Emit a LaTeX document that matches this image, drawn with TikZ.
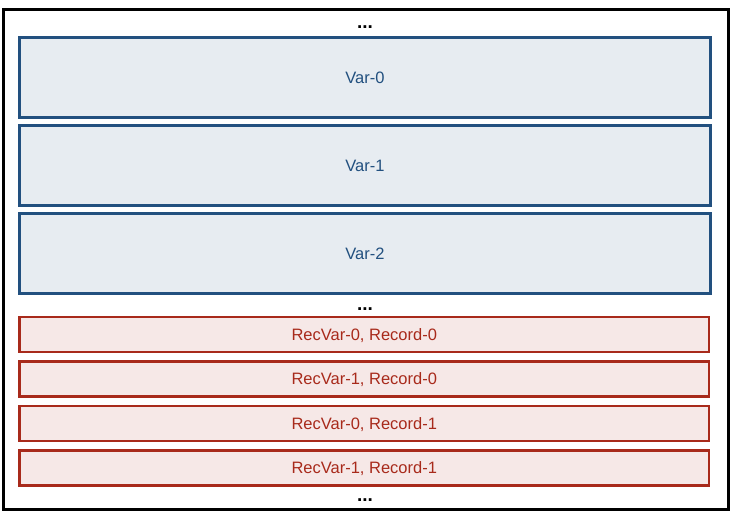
\documentclass[tikz,border=0pt]{standalone}
\usepackage{fontspec}
\setmainfont{Liberation Sans}
\usetikzlibrary{positioning}

\definecolor{varline}{HTML}{22507F}
\definecolor{varfill}{HTML}{E7ECF1}
\definecolor{recline}{HTML}{A82A1B}
\definecolor{recfill}{HTML}{F6E8E7}

\tikzset{
  varbox/.style={draw=varline, fill=varfill, text=varline, line width=2.5pt,
    minimum width=691pt, minimum height=80pt, inner sep=0pt,
    text height=11.8pt, text depth=0pt,
    font=\fontsize{16.5}{19}\selectfont},
  recbox/.style={draw=recline, fill=recfill, text=recline, line width=2.5pt,
    minimum width=689.5pt, minimum height=35pt, inner sep=0pt,
    text height=11.8pt, text depth=0pt,
    font=\fontsize{16.5}{19}\selectfont},
  dotsnode/.style={font=\fontsize{19}{22}\selectfont\bfseries, inner sep=0pt}
}

\begin{document}
\begin{tikzpicture}[x=1pt,y=-1pt]
    \useasboundingbox (0,0) rectangle (731,512);

    % Outer frame
    \draw[line width=3.3pt] (3.5,9.5) rectangle (728.5,509.5);

    % Variable blocks
    \foreach \i in {0,1,2} {
        \node[varbox] (var\i) at (365, 77.5 + \i * 88) {Var-\i};
    }

    % Record blocks
    \foreach \v/\r [count=\k from 0] in {0/0, 1/0, 0/1, 1/1} {
        \node[recbox] (rec\k) at (364.25, 334.5 + \k * 44.5) {RecVar-\v, Record-\r};
    }

    % Ellipses between the groups
    \node[dotsnode] (dotstop) at (365,27) {...};
    \node[dotsnode] (dotsmid) at (365,309) {...};
    \node[dotsnode] (dotsbot) at (365,500) {...};

\end{tikzpicture}
\end{document}
